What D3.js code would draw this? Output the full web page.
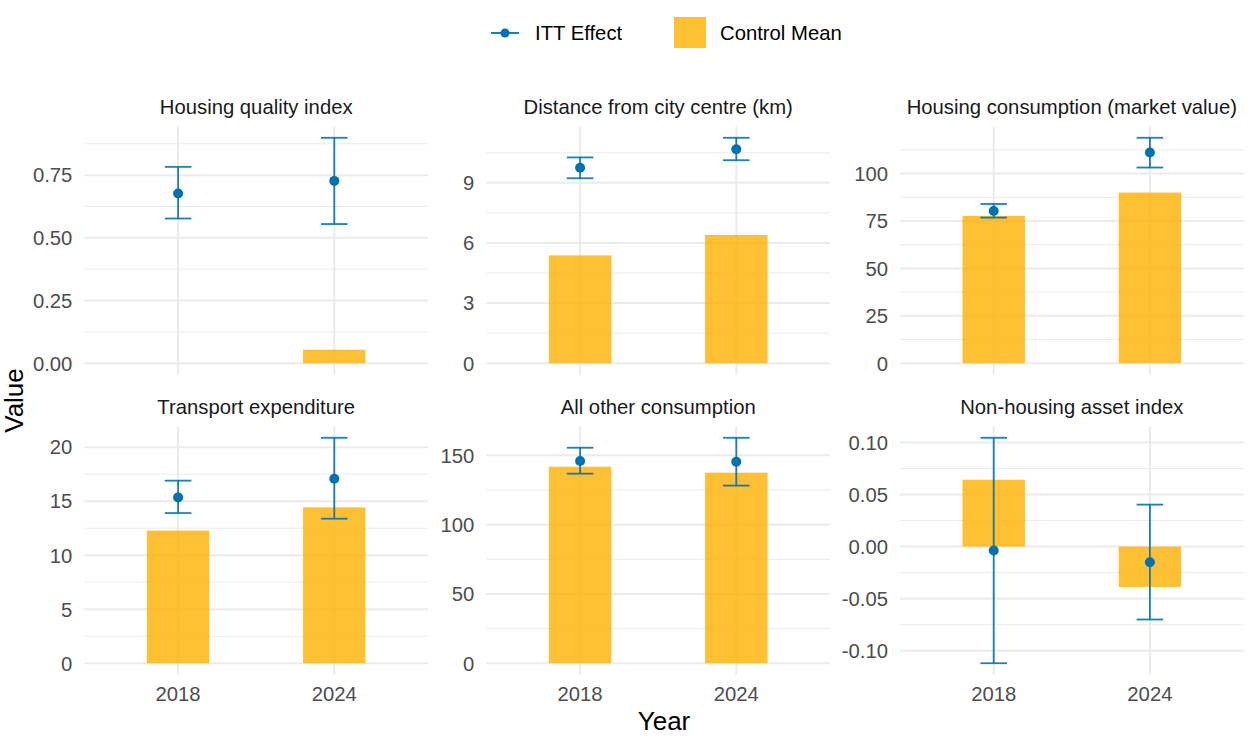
<!DOCTYPE html>
<html>
<head>
<meta charset="utf-8">
<script src="https://cdn.jsdelivr.net/npm/d3@7"></script>
<style>
  body { margin: 0; background: #fff; }
  svg { font-family: "Liberation Sans", Arial, sans-serif; }
</style>
</head>
<body>
<div id="chart"></div>
<script>
// facet titles and x categories
const panelTitles = [
  'Housing quality index',
  'Distance from city centre (km)',
  'Housing consumption (market value)',
  'Transport expenditure',
  'All other consumption',
  'Non-housing asset index'
];
const years = ['2018', '2024'];

// control mean bars, per panel [2018, 2024]
const controlMean = [
  [0, 0.054],
  [5.38, 6.40],
  [77.7, 90.0],
  [12.28, 14.43],
  [141.8, 137.5],
  [0.0642, -0.0387]
];

// ITT effect points and error bar bounds
const ittEffect = [
  [0.677, 0.727],
  [9.75, 10.68],
  [80.3, 111.1],
  [15.35, 17.08],
  [145.9, 145.4],
  [-0.0038, -0.015]
];
const ciLower = [
  [0.577, 0.555],
  [9.23, 10.13],
  [76.8, 103.2],
  [13.9, 13.38],
  [136.8, 128.2],
  [-0.112, -0.070]
];
const ciUpper = [
  [0.783, 0.899],
  [10.27, 11.25],
  [84.0, 118.9],
  [16.9, 20.87],
  [155.5, 162.7],
  [0.1045, 0.0403]
];

// y tick values and labels per panel
const yTicks = [
  [0, 0.25, 0.5, 0.75],
  [0, 3, 6, 9],
  [0, 25, 50, 75, 100],
  [0, 5, 10, 15, 20],
  [0, 50, 100, 150],
  [-0.1, -0.05, 0, 0.05, 0.1]
];
const yTickLabels = [
  ['0.00', '0.25', '0.50', '0.75'],
  ['0', '3', '6', '9'],
  ['0', '25', '50', '75', '100'],
  ['0', '5', '10', '15', '20'],
  ['0', '50', '100', '150'],
  ['-0.10', '-0.05', '0.00', '0.05', '0.10']
];

const legendLabels = ['ITT Effect', 'Control Mean'];

const W = 1252, H = 739;
const blue = '#0072B2';
const gold = '#FFB000';
const grid = '#EBEBEB';
const fs = 20.3;

const colLefts = [84.4, 486.4, 900];
const rowTops = [126.5, 426.5];
const panelW = 343.6, panelH = 248;

const svg = d3.select('#chart')
  .append('svg')
  .attr('width', W)
  .attr('height', H);

panelTitles.forEach((title, p) => {
  const left = colLefts[p % 3];
  const top = rowTops[Math.floor(p / 3)];

  const x = d3.scalePoint()
    .domain(years)
    .range([left, left + panelW])
    .padding(0.6);
  const step = x.step();

  const vals = [0].concat(controlMean[p], ciLower[p], ciUpper[p], ittEffect[p]);
  const [lo, hi] = d3.extent(vals);
  const pad = (hi - lo) * 0.05;
  const y = d3.scaleLinear()
    .domain([lo - pad, hi + pad])
    .range([top + panelH, top]);

  const g = svg.append('g');

  // minor gridlines: midpoints between major ticks
  const t = yTicks[p];
  const d = t[1] - t[0];
  const minor = d3.range(t[0] - d / 2, t[t.length - 1] + d, d)
    .filter(v => v >= y.domain()[0] && v <= y.domain()[1]);

  g.selectAll('.minor')
    .data(minor)
    .join('line')
    .attr('x1', left)
    .attr('x2', left + panelW)
    .attr('y1', v => y(v))
    .attr('y2', v => y(v))
    .attr('stroke', grid)
    .attr('stroke-width', 1);

  g.selectAll('.major')
    .data(t)
    .join('line')
    .attr('x1', left)
    .attr('x2', left + panelW)
    .attr('y1', v => y(v))
    .attr('y2', v => y(v))
    .attr('stroke', grid)
    .attr('stroke-width', 2);

  g.selectAll('.vgrid')
    .data(years)
    .join('line')
    .attr('x1', v => x(v))
    .attr('x2', v => x(v))
    .attr('y1', top)
    .attr('y2', top + panelH)
    .attr('stroke', grid)
    .attr('stroke-width', 2);

  // y tick labels
  g.selectAll('.ylab')
    .data(t)
    .join('text')
    .attr('x', left - 12)
    .attr('y', v => y(v))
    .attr('dy', '0.36em')
    .attr('text-anchor', 'end')
    .style('font-size', fs + 'px')
    .style('fill', '#4D4D4D')
    .text((v, i) => yTickLabels[p][i]);

  // x tick labels on bottom row
  if (p >= 3) {
    g.selectAll('.xlab')
      .data(years)
      .join('text')
      .attr('x', v => x(v))
      .attr('y', top + panelH + 26.5)
      .attr('text-anchor', 'middle')
      .style('font-size', fs + 'px')
      .style('fill', '#4D4D4D')
      .text(v => v);
  }

  // facet title
  g.append('text')
    .attr('x', left + panelW / 2)
    .attr('y', top - 12.5)
    .attr('text-anchor', 'middle')
    .style('font-size', fs + 'px')
    .style('fill', '#1A1A1A')
    .text(title);

  // bars
  const bw = step * 0.4;
  g.selectAll('.bar')
    .data(years)
    .join('rect')
    .attr('x', v => x(v) - bw / 2)
    .attr('width', bw)
    .attr('y', (v, i) => y(Math.max(0, controlMean[p][i])))
    .attr('height', (v, i) => Math.abs(y(controlMean[p][i]) - y(0)))
    .attr('fill', gold)
    .attr('fill-opacity', 0.8);

  // error bars
  const ww = step * 0.17;
  const eb = g.selectAll('.eb')
    .data(years)
    .join('g')
    .attr('stroke', blue)
    .attr('stroke-opacity', 0.9)
    .attr('stroke-width', 1.8);
  eb.append('line')
    .attr('x1', v => x(v))
    .attr('x2', v => x(v))
    .attr('y1', (v, i) => y(ciLower[p][i]))
    .attr('y2', (v, i) => y(ciUpper[p][i]));
  eb.append('line')
    .attr('x1', v => x(v) - ww / 2)
    .attr('x2', v => x(v) + ww / 2)
    .attr('y1', (v, i) => y(ciLower[p][i]))
    .attr('y2', (v, i) => y(ciLower[p][i]));
  eb.append('line')
    .attr('x1', v => x(v) - ww / 2)
    .attr('x2', v => x(v) + ww / 2)
    .attr('y1', (v, i) => y(ciUpper[p][i]))
    .attr('y2', (v, i) => y(ciUpper[p][i]));

  g.selectAll('.pt')
    .data(years)
    .join('circle')
    .attr('cx', v => x(v))
    .attr('cy', (v, i) => y(ittEffect[p][i]))
    .attr('r', 5)
    .attr('fill', blue);
});

// axis titles
svg.append('text')
  .attr('x', (colLefts[0] + colLefts[2] + panelW) / 2)
  .attr('y', 730)
  .attr('text-anchor', 'middle')
  .style('font-size', '26px')
  .style('fill', '#000')
  .text('Year');

svg.append('text')
  .attr('transform', `translate(23, ${(rowTops[0] + rowTops[1] + panelH) / 2}) rotate(-90)`)
  .attr('text-anchor', 'middle')
  .style('font-size', '26px')
  .style('fill', '#000')
  .text('Value');

// legend
const lg = svg.append('g');
lg.append('line')
  .attr('x1', 491).attr('x2', 519)
  .attr('y1', 33).attr('y2', 33)
  .attr('stroke', blue)
  .attr('stroke-width', 1.8);
lg.append('circle')
  .attr('cx', 505).attr('cy', 33).attr('r', 4.5)
  .attr('fill', blue);
lg.append('text')
  .attr('x', 535).attr('y', 33).attr('dy', '0.36em')
  .style('font-size', fs + 'px')
  .text(legendLabels[0]);
lg.append('rect')
  .attr('x', 674).attr('y', 17)
  .attr('width', 32).attr('height', 31)
  .attr('fill', gold)
  .attr('fill-opacity', 0.8);
lg.append('text')
  .attr('x', 720).attr('y', 33).attr('dy', '0.36em')
  .style('font-size', fs + 'px')
  .text(legendLabels[1]);
</script>
</body>
</html>
